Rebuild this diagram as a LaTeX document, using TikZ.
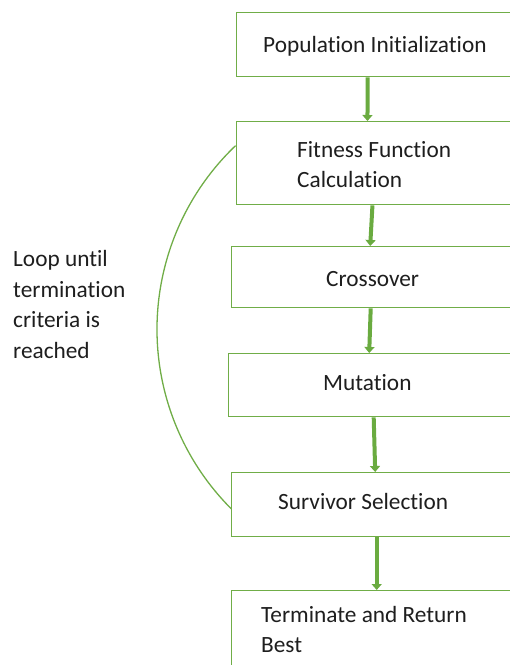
\documentclass[tikz,border=0pt]{standalone}
\usepackage{fontspec}
\setmainfont{Carlito}[Ligatures={NoCommon,NoContextual}]
\usetikzlibrary{arrows.meta}
\definecolor{boxgreen}{HTML}{70AD47}
\definecolor{arrowgreen}{HTML}{6AAB40}
\definecolor{ink}{HTML}{1E1E1E}
\begin{document}
\begin{tikzpicture}[x=1pt,y=-1pt,
  stage/.style={draw=boxgreen,line width=1.4pt,fill=white,inner sep=0pt,anchor=north west},
  label/.style={anchor=base west,inner sep=0pt,text=ink,font=\fontsize{23.3}{28}\selectfont},
  flow/.style={draw=arrowgreen,line width=4pt,-{Triangle[width=10pt,length=6pt]}},
  loopline/.style={draw=boxgreen,line width=1.3pt}]
\useasboundingbox (0,0) rectangle (510,665);
\clip (0,0) rectangle (510,665);

% process stages
\node[stage,minimum width=284pt,minimum height=64pt] (b1) at (236,12) {};
\node[stage,minimum width=284.5pt,minimum height=83pt] (b2) at (235.5,121) {};
\node[stage,minimum width=289pt,minimum height=61pt] (b3) at (231,246) {};
\node[stage,minimum width=292pt,minimum height=63pt] (b4) at (228,353) {};
\node[stage,minimum width=289pt,minimum height=64pt] (b5) at (231,472) {};
\node[stage,minimum width=289pt,minimum height=90pt] (b6) at (231,590) {};

% stage captions
\node[label] (t1) at (263,52) {Population Initialization};
\node[label] (t2a) at (297,157) {Fitness Function};
\node[label] (t2b) at (297,187) {Calculation};
\node[label] (t3) at (326,286) {Crossover};
\node[label] (t4) at (323,390) {Mutation};
\node[label] (t5) at (278,509) {Survivor Selection};
\node[label] (t6a) at (261,622) {Terminate and Return};
\node[label] (t6b) at (261,652) {Best};

% loop annotation
\node[label] (l1) at (13,266) {Loop until};
\node[label] (l2) at (13,297) {termination};
\node[label] (l3) at (13,327) {criteria is};
\node[label] (l4) at (13,358) {reached};

% flow arrows between stages
\draw[flow] ([xshift=-11pt]b1.south) -- ([xshift=-11pt]b2.north);
\draw[flow] ([xshift=-6pt]b2.south) -- ([xshift=-6pt]b3.north);
\draw[flow] ([xshift=-5.5pt]b3.south) -- ([xshift=-5.5pt]b4.north);
\draw[flow] ([xshift=-1pt]b4.south) -- ([xshift=-1pt]b5.north);
\draw[flow] ([xshift=0.5pt]b5.south) -- ([xshift=0.5pt]b6.north);

% loop arc from fitness calculation back to survivor selection
\draw[loopline] ([yshift=17.5pt]b2.west) arc[start angle=226.3,end angle=135,radius=254];
\end{tikzpicture}
\end{document}
